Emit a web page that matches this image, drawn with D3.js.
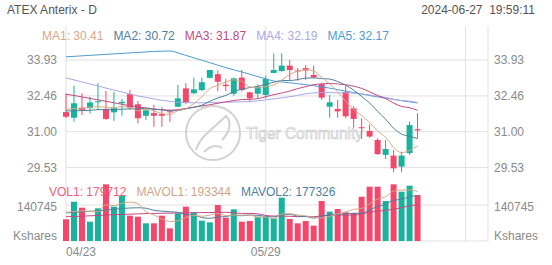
<!DOCTYPE html>
<html>
<head>
<meta charset="utf-8">
<script src="https://cdn.jsdelivr.net/npm/d3@7"></script>
<style>
  body { margin: 0; background: #fff; }
  text { font-family: "Liberation Sans", Arial, sans-serif; }
</style>
</head>
<body>
<div id="chart"></div>
<script>
const chartWidth = 552;
const chartHeight = 265;

// Trading days shown (Apr 23 - Jun 26)
const dates = ['04/23','04/24','04/25','04/26','04/29','04/30','05/01','05/02','05/03','05/06',
  '05/07','05/08','05/09','05/10','05/13','05/14','05/15','05/16','05/17','05/20',
  '05/21','05/22','05/23','05/24','05/28','05/29','05/30','05/31','06/03','06/04',
  '06/05','06/06','06/07','06/10','06/11','06/12','06/13','06/14','06/17','06/18',
  '06/20','06/21','06/24','06/25','06/26'];

const open  = [31.80,31.57,31.98,31.96,32.20,31.93,31.79,32.16,32.53,32.12,
  31.65,31.76,31.72,31.83,32.02,32.77,32.57,32.70,33.20,33.35,
  32.92,32.55,33.21,32.61,32.55,32.50,33.40,33.48,33.70,33.50,
  33.60,33.32,32.94,32.02,31.93,32.63,31.95,31.18,31.03,30.66,
  30.05,30.02,29.57,30.12,31.10];
const high  = [32.57,32.88,32.57,32.42,32.98,32.66,32.63,32.34,32.70,32.25,
  31.96,32.10,32.00,31.90,32.91,32.98,33.21,33.21,33.52,33.50,
  33.15,33.21,33.52,32.63,32.94,33.29,34.20,34.20,33.93,33.60,
  33.72,33.70,33.00,32.50,32.30,32.87,32.05,31.55,31.30,30.73,
  30.66,30.25,30.18,31.41,31.75];
const low   = [31.55,31.41,31.68,31.74,31.90,31.48,31.44,31.65,31.89,31.34,
  31.48,31.20,31.20,31.40,32.00,32.12,32.53,32.66,33.18,32.66,
  32.66,32.47,32.64,32.23,32.36,32.36,33.40,33.45,33.10,33.08,
  33.12,33.18,32.30,31.57,31.57,31.55,31.16,30.70,30.75,30.05,
  29.88,29.34,29.34,30.05,30.73];
const close = [31.61,32.16,31.89,32.19,32.24,31.52,31.98,32.22,31.98,31.55,
  31.87,31.65,31.65,31.80,32.36,32.20,32.73,33.02,33.52,33.04,
  32.86,33.18,32.70,32.36,32.84,33.15,33.52,33.70,33.52,33.47,
  33.50,33.22,32.39,32.20,31.83,31.63,31.52,31.15,30.80,30.08,
  30.29,29.50,30.02,31.27,31.05];

// Moving average lines
const ma1 = [31.90,31.95,31.95,32.00,32.02,32.00,31.96,32.03,31.99,31.85,
  31.92,31.85,31.74,31.70,31.86,31.93,32.15,32.42,32.76,32.90,
  33.03,33.12,33.06,32.83,32.79,32.84,32.91,33.11,33.34,33.47,
  33.54,33.48,33.22,32.95,32.63,32.25,31.91,31.66,31.38,31.03,
  30.77,30.36,30.14,30.23,30.41];
const ma2 = [31.85,31.85,31.86,31.87,31.90,31.90,31.90,31.92,31.93,31.93,
  31.96,31.91,31.89,31.85,31.86,31.93,32.00,32.08,32.24,32.38,
  32.48,32.64,32.74,32.80,32.85,32.94,33.02,33.09,33.09,33.13,
  33.19,33.20,33.17,33.15,33.05,32.90,32.70,32.44,32.17,31.83,
  31.51,31.14,30.90,30.81,30.72];
const ma3 = [32.53,32.48,32.42,32.36,32.30,32.24,32.18,32.12,32.06,32.01,
  31.97,31.93,31.90,31.88,31.90,31.95,32.00,32.05,32.10,32.16,
  32.22,32.27,32.31,32.32,32.35,32.43,32.51,32.58,32.66,32.76,
  32.84,32.92,32.95,32.97,32.95,32.92,32.86,32.77,32.63,32.48,
  32.35,32.17,32.03,31.98,31.87];
const ma4 = [33.20,33.12,33.03,32.95,32.87,32.78,32.70,32.62,32.54,32.46,
  32.40,32.34,32.28,32.24,32.20,32.19,32.18,32.18,32.19,32.20,
  32.20,32.21,32.22,32.23,32.26,32.30,32.34,32.38,32.43,32.48,
  32.55,32.58,32.60,32.60,32.58,32.59,32.57,32.54,32.50,32.45,
  32.40,32.32,32.27,32.25,32.19];
const ma5 = [34.06,34.08,34.10,34.12,34.14,34.16,34.18,34.20,34.22,34.24,
  34.26,34.28,34.29,34.30,34.22,34.12,34.02,33.92,33.82,33.72,
  33.62,33.53,33.44,33.35,33.25,33.16,33.07,33.03,33.00,32.96,
  32.92,32.88,32.83,32.78,32.72,32.66,32.60,32.54,32.48,32.42,
  32.37,32.32,32.27,32.22,32.17];

const volume = [84800,153600,130300,75500,127700,221600,134200,177200,99000,95100,
  69100,69100,99000,49500,108100,134200,112100,79400,73000,140700,
  91200,123800,75500,78200,95100,95100,88600,169400,86000,69100,
  78200,59900,156400,114700,125100,112100,110000,173200,212300,212300,
  156400,221600,192700,216200,179712];
const mavol1 = [112000,115000,118000,116000,114400,141700,137900,147200,151900,145400,
  114900,101900,86300,76400,79000,92000,100600,96700,101400,107900,
  99300,101600,100800,101900,92800,93500,86500,105300,106800,101600,
  98300,92500,89900,95700,106900,113600,123700,127000,146500,164000,
  172800,195200,199100,199800,193344];
const mavol2 = [110000,112000,114000,116000,118000,121000,124000,127000,129000,129900,
  128300,119900,116800,114200,112200,103500,101200,91500,88900,93400,
  95600,101100,98800,101600,100300,96400,94100,103100,104400,97200,
  95900,89500,97600,101300,104300,106000,108100,108500,121100,135400,
  143200,159400,163000,173200,177326];
const mavol3 = [95000,96000,97000,98500,100000,101500,103000,104000,105000,106000,
  107000,108000,108500,109000,109500,110000,110500,111000,111300,111700,
  112000,110500,107800,107900,106300,99900,97700,97300,96600,95300,
  95800,95300,98200,101400,102300,101200,101100,105800,112700,116300,
  119600,124500,130300,137200,141500];

const priceTicks = [33.93, 32.46, 31.00, 29.53];
const volumeTicks = [140745];
const xGridIndex = [0, 25, 50];
const xTickLabels = ['04/23', '05/29'];

const maNames = ['MA1', 'MA2', 'MA3', 'MA4', 'MA5'];
const maColors = ['#d7a988', '#4f7f9e', '#c24a82', '#a9a8e4', '#4d9bd3'];
const upColor = '#17b39d';
const downColor = '#f4476b';
const gridColor = '#e1e1e1';
const labelColor = '#8a8a8a';

const plotTop = 26;
const plotRight = 488;

const svg = d3.select('#chart')
  .append('svg')
  .attr('width', chartWidth)
  .attr('height', chartHeight);

// Scales: candle index -> x, price -> y, volume -> y
const x = d3.scaleLinear().domain([0, 50]).range([66, 465.5]);
const y = d3.scaleLinear().domain([29.53, 33.93]).range([167.6, 60]);
const yv = d3.scaleLinear().domain([0, 140745]).range([241, 205]);
const plotLeft = x(0);
const plotBottom = yv(0);

// Grid lines
const grid = svg.append('g');
grid.selectAll('.hgrid')
  .data(priceTicks.map(y).concat(volumeTicks.map(yv), [plotBottom]))
  .enter()
  .append('line')
  .attr('x1', plotLeft).attr('x2', plotRight)
  .attr('y1', d => d).attr('y2', d => d)
  .attr('stroke', gridColor);
grid.selectAll('.vgrid')
  .data(xGridIndex.map(x).concat([plotRight]))
  .enter()
  .append('line')
  .attr('x1', d => d).attr('x2', d => d)
  .attr('y1', plotTop).attr('y2', plotBottom)
  .attr('stroke', gridColor);

// Watermark
const mark = svg.append('g').attr('fill', 'none').attr('stroke', '#d2d2d2');
mark.append('circle').attr('cx', 213).attr('cy', 133).attr('r', 27).attr('stroke-width', 2);
mark.append('path')
  .attr('d', 'M196,150 C200,136 214,128 226,116 C232,122 230,132 222,140 M204,152 C210,146 216,144 222,148')
  .attr('stroke-width', 2);
svg.append('text')
  .attr('x', 246).attr('y', 139)
  .attr('font-size', 17)
  .attr('textLength', 117)
  .attr('lengthAdjust', 'spacingAndGlyphs')
  .attr('fill', '#f3f3f3')
  .attr('stroke', '#cdcdcd')
  .attr('stroke-width', 0.7)
  .text('Tiger Community');

const candles = dates.map((d, i) => ({
  i, date: d, open: open[i], high: high[i], low: low[i], close: close[i], volume: volume[i]
}));
const colorOf = d => d.close >= d.open ? upColor : downColor;

// Volume bars
svg.selectAll('.vol')
  .data(candles)
  .enter()
  .append('rect')
  .attr('x', d => x(d.i) - 3)
  .attr('width', 6)
  .attr('y', d => yv(d.volume))
  .attr('height', d => plotBottom - yv(d.volume))
  .attr('fill', colorOf);

// Volume moving averages
const volLine = series => d3.line()
  .x((v, i) => x(i))
  .y(v => yv(v))
  .curve(d3.curveMonotoneX)(series);
[[mavol3, maColors[2]], [mavol2, maColors[1]], [mavol1, maColors[0]]].forEach(([s, c]) => {
  svg.append('path')
    .attr('d', volLine(s))
    .attr('fill', 'none')
    .attr('stroke', c)
    .attr('stroke-width', 1);
});

// Candles: wicks and bodies
svg.selectAll('.wick')
  .data(candles)
  .enter()
  .append('line')
  .attr('x1', d => x(d.i)).attr('x2', d => x(d.i))
  .attr('y1', d => y(d.high)).attr('y2', d => y(d.low))
  .attr('stroke', colorOf)
  .attr('stroke-width', 1);
svg.selectAll('.body')
  .data(candles)
  .enter()
  .append('rect')
  .attr('x', d => x(d.i) - 3)
  .attr('width', 6)
  .attr('y', d => y(Math.max(d.open, d.close)))
  .attr('height', d => Math.max(1, Math.abs(y(d.open) - y(d.close))))
  .attr('fill', colorOf);

// Price moving averages
const priceLine = series => d3.line()
  .x((v, i) => x(i))
  .y(v => y(v))
  .curve(d3.curveMonotoneX)(series);
const maSeries = [ma1, ma2, ma3, ma4, ma5];
[4, 3, 2, 1, 0].forEach(k => {
  svg.append('path')
    .attr('d', priceLine(maSeries[k]))
    .attr('fill', 'none')
    .attr('stroke', maColors[k])
    .attr('stroke-width', 1);
});

// Axis labels, left and right
const axisLabels = priceTicks.map(t => ({ y: y(t), text: t.toFixed(2) }))
  .concat(volumeTicks.map(t => ({ y: yv(t) + 2, text: String(t) })))
  .concat([{ y: plotBottom - 5, text: 'Kshares' }]);
[[57, 'end'], [494, 'start']].forEach(([ax, anchor]) => {
  svg.selectAll(null)
    .data(axisLabels)
    .enter()
    .append('text')
    .attr('x', ax)
    .attr('y', d => d.y)
    .attr('dy', '0.35em')
    .attr('text-anchor', anchor)
    .attr('font-size', 12)
    .attr('fill', labelColor)
    .text(d => d.text);
});

// Date labels under the volume pane
svg.selectAll('.xlabel')
  .data(xTickLabels)
  .enter()
  .append('text')
  .attr('x', d => x(dates.indexOf(d)))
  .attr('y', 252)
  .attr('dy', '0.35em')
  .attr('text-anchor', (d, i) => i === 0 ? 'start' : 'middle')
  .attr('font-size', 12)
  .attr('fill', labelColor)
  .text(d => d);

// Header
svg.append('text')
  .attr('x', 7).attr('y', 10).attr('dy', '0.35em')
  .attr('font-size', 12).attr('fill', '#555')
  .text('ATEX Anterix - D');
svg.append('text')
  .attr('x', 535).attr('y', 10).attr('dy', '0.35em')
  .attr('text-anchor', 'end')
  .attr('font-size', 12).attr('fill', '#555')
  .style('white-space', 'pre')
  .text('2024-06-27  19:59:11');

// Legends laid out one after another
function legendRow(items, startX, rowY) {
  let cx = startX;
  items.forEach(item => {
    const t = svg.append('text')
      .attr('x', cx).attr('y', rowY).attr('dy', '0.35em')
      .attr('font-size', 12)
      .attr('fill', item.color)
      .text(item.text);
    cx += t.node().getComputedTextLength() + 10;
  });
}
const lastIdx = dates.length - 1;
legendRow(maSeries.map((s, k) => ({
  text: maNames[k] + ': ' + s[lastIdx].toFixed(2), color: maColors[k]
})), 42, 36);
legendRow([
  { text: 'VOL1: ' + volume[lastIdx], color: '#f0607a' },
  { text: 'MAVOL1: ' + mavol1[lastIdx], color: '#cfa68a' },
  { text: 'MAVOL2: ' + mavol2[lastIdx], color: '#4f7f9e' }
], 49, 191.5);
</script>
</body>
</html>
